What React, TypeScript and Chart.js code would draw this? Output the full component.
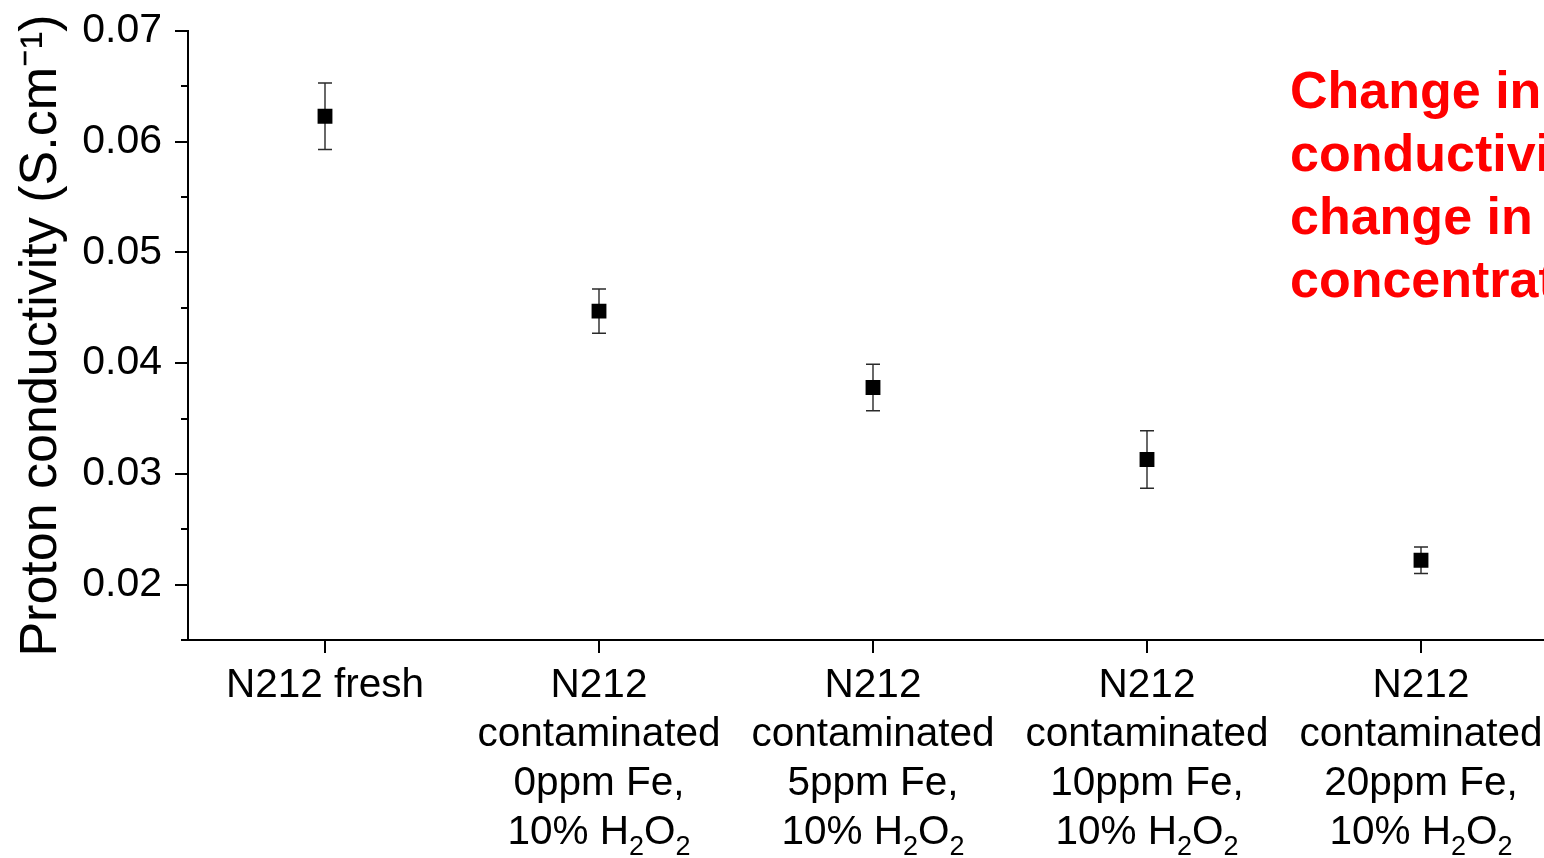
import React, { useEffect, useRef } from "react";
import { Chart, registerables } from "chart.js";

Chart.register(...registerables);

const CATEGORIES: string[][] = [
  ["N212 fresh"],
  ["N212", "contaminated", "0ppm Fe,", "10% H₂O₂"],
  ["N212", "contaminated", "5ppm Fe,", "10% H₂O₂"],
  ["N212", "contaminated", "10ppm Fe,", "10% H₂O₂"],
  ["N212", "contaminated", "20ppm Fe,", "10% H₂O₂"],
];
const CONDUCTIVITY = [0.0623, 0.0447, 0.0378, 0.0313, 0.0222];
const ERRORS = [0.003, 0.002, 0.0021, 0.0026, 0.0012];
const Y_MIN = 0.015;
const Y_MAX = 0.07;
const Y_TICKS = [0.02, 0.03, 0.04, 0.05, 0.06, 0.07];
const Y_MINOR_TICKS = [0.015, 0.025, 0.035, 0.045, 0.055, 0.065];
const Y_TITLE = "Proton conductivity (S.cm⁻¹)";
const NOTE_LINES = ["Change in", "conductivity with", "change in Fe", "concentration"];

const FONT = "'Liberation Sans', Arial, sans-serif";

export default function App() {
  const canvasRef = useRef<HTMLCanvasElement | null>(null);

  useEffect(() => {
    document.body.style.overflow = "hidden";
    const canvas = canvasRef.current;
    if (!canvas) return;

    const errorBars = {
      id: "errorBars",
      beforeDatasetsDraw(chart: any) {
        const { ctx } = chart;
        const xs = chart.scales.x;
        const ys = chart.scales.y;
        ctx.save();
        ctx.strokeStyle = "#2a2a2a";
        ctx.lineWidth = 1.4;
        CONDUCTIVITY.forEach((v, i) => {
          const x = xs.getPixelForValue(i);
          const yt = ys.getPixelForValue(v + ERRORS[i]);
          const yb = ys.getPixelForValue(v - ERRORS[i]);
          ctx.beginPath();
          ctx.moveTo(x, yt);
          ctx.lineTo(x, yb);
          ctx.moveTo(x - 7, yt);
          ctx.lineTo(x + 7, yt);
          ctx.moveTo(x - 7, yb);
          ctx.lineTo(x + 7, yb);
          ctx.stroke();
        });
        ctx.restore();
      },
    };

    const minorTicks = {
      id: "minorTicks",
      afterDraw(chart: any) {
        const { ctx } = chart;
        const ys = chart.scales.y;
        const left = chart.chartArea.left;
        ctx.save();
        ctx.strokeStyle = "#000";
        ctx.lineWidth = 2;
        Y_MINOR_TICKS.forEach((v) => {
          const y = Math.round(ys.getPixelForValue(v));
          ctx.beginPath();
          ctx.moveTo(left - 7, y);
          ctx.lineTo(left, y);
          ctx.stroke();
        });
        ctx.restore();
      },
    };

    // Category labels with real subscripts (₂ drawn as smaller, lowered "2")
    const xLabels = {
      id: "xLabels",
      afterDraw(chart: any) {
        const { ctx } = chart;
        const xs = chart.scales.x;
        const base = chart.chartArea.bottom;
        const mainSize = 40.5;
        const subSize = 27;
        const subs: Record<string, string> = { "₂": "2" };
        ctx.save();
        ctx.fillStyle = "#000";
        ctx.textAlign = "left";
        ctx.textBaseline = "alphabetic";
        CATEGORIES.forEach((lines, i) => {
          const cx = xs.getPixelForValue(i);
          lines.forEach((line, j) => {
            const segs: { t: string; sub: boolean }[] = [];
            for (const ch of line) {
              const sub = ch in subs;
              const t = sub ? subs[ch] : ch;
              const last = segs[segs.length - 1];
              if (last && last.sub === sub) last.t += t;
              else segs.push({ t, sub });
            }
            let w = 0;
            segs.forEach((s) => {
              ctx.font = `${s.sub ? subSize : mainSize}px ${FONT}`;
              w += ctx.measureText(s.t).width;
            });
            let x = cx - w / 2;
            const y = base + 57 + j * 49;
            segs.forEach((s) => {
              ctx.font = `${s.sub ? subSize : mainSize}px ${FONT}`;
              ctx.fillText(s.t, x, s.sub ? y + 11 : y);
              x += ctx.measureText(s.t).width;
            });
          });
        });
        ctx.restore();
      },
    };

    const note = {
      id: "note",
      afterDraw(chart: any) {
        const { ctx } = chart;
        ctx.save();
        ctx.fillStyle = "#ff0000";
        ctx.font = `bold 52px ${FONT}`;
        ctx.textAlign = "left";
        ctx.textBaseline = "alphabetic";
        NOTE_LINES.forEach((line, i) => {
          ctx.fillText(line, 1290, 108 + i * 63);
        });
        ctx.restore();
      },
    };

    const chart = new Chart(canvas, {
      type: "line",
      data: {
        labels: CATEGORIES as any,
        datasets: [
          {
            data: CONDUCTIVITY,
            showLine: false,
            pointStyle: "rect",
            pointRadius: 10.5,
            pointHoverRadius: 10.5,
            pointBorderWidth: 0,
            backgroundColor: "#000",
            borderColor: "#000",
          },
        ],
      },
      options: {
        animation: false,
        responsive: false,
        maintainAspectRatio: false,
        events: [],
        layout: { padding: { top: 31, right: 12, left: 0, bottom: 0 } },
        plugins: {
          legend: { display: false },
          tooltip: { enabled: false },
        },
        scales: {
          x: {
            type: "category",
            offset: true,
            grid: {
              offset: false,
              drawOnChartArea: false,
              drawTicks: true,
              tickLength: 13,
              color: "#000",
              lineWidth: 2,
            },
            border: { display: true, color: "#000", width: 2 },
            ticks: {
              display: false,
              autoSkip: false,
              maxRotation: 0,
            },
            afterFit(scale: any) {
              scale.height = 218;
            },
          },
          y: {
            type: "linear",
            min: Y_MIN,
            max: Y_MAX,
            grid: {
              drawOnChartArea: false,
              drawTicks: true,
              tickLength: 13,
              color: "#000",
              lineWidth: 2,
            },
            border: { display: true, color: "#000", width: 2 },
            afterBuildTicks(scale: any) {
              scale.ticks = Y_TICKS.map((v) => ({ value: v }));
            },
            ticks: {
              color: "#000",
              font: { family: FONT, size: 41, lineHeight: 0.8 },
              padding: 13,
              callback: (v: any) => Number(v).toFixed(2),
            },
            title: {
              display: true,
              text: Y_TITLE,
              color: "#000",
              font: { family: FONT, size: 52, lineHeight: 1.2 },
              padding: { top: 10, bottom: 0 },
            },
            afterFit(scale: any) {
              scale.width = 188;
            },
          },
        },
      },
      plugins: [errorBars, minorTicks, xLabels, note],
    } as any);

    return () => chart.destroy();
  }, []);

  return (
    <div style={{ position: "fixed", left: 0, top: 0, width: 1570, height: 858, background: "#fff" }}>
      <canvas ref={canvasRef} width={1570} height={858} style={{ display: "block" }} />
    </div>
  );
}
